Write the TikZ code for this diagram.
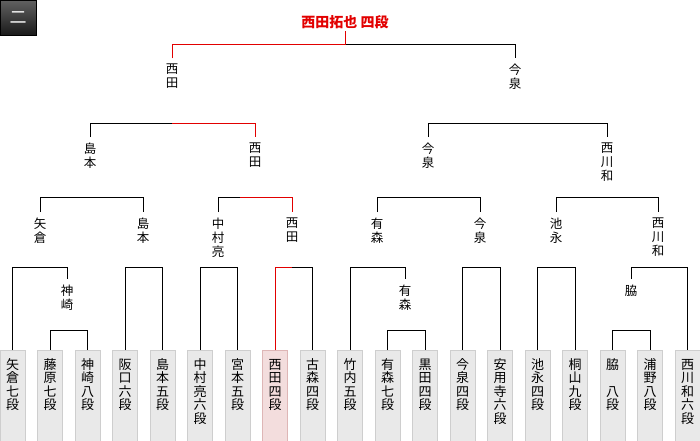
\documentclass[tikz,border=0pt]{standalone}
\usepackage{fontspec}
\setmainfont{Noto Sans CJK JP}
\usepackage{tikz}
\usetikzlibrary{positioning,calc}
\definecolor{winred}{RGB}{226,0,0}
\definecolor{boxgray}{RGB}{233,233,233}
\definecolor{boxline}{RGB}{206,206,206}
\definecolor{winfill}{RGB}{243,221,221}
\definecolor{winline}{RGB}{222,182,182}
\newcommand{\tate}[1]{\parbox[t]{25pt}{\centering #1}}
\tikzset{
  player/.style={rectangle, draw=boxline, fill=#1, anchor=north, minimum width=25pt,
                 inner xsep=0pt, inner ysep=0pt, text height=19pt, text depth=75pt,
                 font=\fontsize{13}{13.5}\selectfont},
  player/.default={boxgray},
  pwin/.style={player=winfill, draw=winline},
  winner/.style={anchor=north, inner xsep=0pt, inner ysep=6pt, align=center,
                 font=\fontsize{12.5}{14}\selectfont},
  bline/.style={draw=black, line width=1pt},
  win/.style={draw=winred, line width=1pt},
}

\begin{document}
\begin{tikzpicture}[x=1pt, y=-1pt]
\useasboundingbox (0,0) rectangle (700,440);
% round tab and champion
\node[draw=black, top color=black!62, bottom color=black!90, minimum width=36pt, minimum height=35pt,
      anchor=north west, inner sep=0pt, text=white, font=\fontsize{17}{17}\selectfont] (tab) at (0,0) {二};
\node[text=winred, font=\fontsize{14}{14}\selectfont\bfseries, inner sep=2pt] (t) at (345,22) {西田拓也 四段};
% bracket levels
\coordinate (r1) at (0,330);
\coordinate (r2) at (0,267);
\coordinate (r3) at (0,197);
\coordinate (r4) at (0,123);
\coordinate (r5) at (0,44);
\coordinate (redstart) at (240,197);
% players
\node[player] (p1) at (12.5,350) {\tate{矢\\倉\\七\\段}};
\node[player] (p2) at (50,350) {\tate{藤\\原\\七\\段}};
\node[player] (p3) at (87.5,350) {\tate{神\\崎\\八\\段}};
\node[player] (p4) at (125,350) {\tate{阪\\口\\六\\段}};
\node[player] (p5) at (162.5,350) {\tate{島\\本\\五\\段}};
\node[player] (p6) at (200,350) {\tate{中\\村\\亮\\六\\段}};
\node[player] (p7) at (237.5,350) {\tate{宮\\本\\五\\段}};
\node[pwin] (p8) at (275,350) {\tate{西\\田\\四\\段}};
\node[player] (p9) at (312.5,350) {\tate{古\\森\\四\\段}};
\node[player] (p10) at (350,350) {\tate{竹\\内\\五\\段}};
\node[player] (p11) at (387.5,350) {\tate{有\\森\\七\\段}};
\node[player] (p12) at (425,350) {\tate{黒\\田\\四\\段}};
\node[player] (p13) at (462.5,350) {\tate{今\\泉\\四\\段}};
\node[player] (p14) at (500,350) {\tate{安\\用\\寺\\六\\段}};
\node[player] (p15) at (537.5,350) {\tate{池\\永\\四\\段}};
\node[player] (p16) at (575,350) {\tate{桐\\山\\九\\段}};
\node[player] (p17) at (612.5,350) {\tate{脇\\　\\八\\段}};
\node[player] (p18) at (650,350) {\tate{浦\\野\\八\\段}};
\node[player] (p19) at (687.5,350) {\tate{西\\川\\和\\六\\段}};
% winners
\node[winner] (a1) at (67,279) {神\\崎};
\node[winner] (a2) at (405,279) {有\\森};
\node[winner] (a3) at (631,279) {脇};
\node[winner] (b1) at (40,212) {矢\\倉};
\node[winner] (b2) at (143,212) {島\\本};
\node[winner] (b3) at (218,212) {中\\村\\亮};
\node[winner] (b4) at (292,212) {西\\田};
\node[winner] (b5) at (377,212) {有\\森};
\node[winner] (b6) at (480,212) {今\\泉};
\node[winner] (b7) at (556,212) {池\\永};
\node[winner] (b8) at (658,212) {西\\川\\和};
\node[winner] (c1) at (90,137) {島\\本};
\node[winner] (c2) at (255,137) {西\\田};
\node[winner] (c3) at (428,137) {今\\泉};
\node[winner] (c4) at (607,137) {西\\川\\和};
\node[winner] (d1) at (172,58) {西\\田};
\node[winner] (d2) at (515,58) {今\\泉};
% matches
\draw[bline] (p2.north) -- (p2.north |- r1) -| (p3.north);
\draw[bline] (p11.north) -- (p11.north |- r1) -| (p12.north);
\draw[bline] (p17.north) -- (p17.north |- r1) -| (p18.north);
\draw[bline] (p1.north) -- (p1.north |- r2) -| (a1.north);
\draw[bline] (p4.north) -- (p4.north |- r2) -| (p5.north);
\draw[bline] (p6.north) -- (p6.north |- r2) -| (p7.north);
\draw[bline] (p8.north) -- (p8.north |- r2) -| (p9.north);
\draw[bline] (p10.north) -- (p10.north |- r2) -| (a2.north);
\draw[bline] (p13.north) -- (p13.north |- r2) -| (p14.north);
\draw[bline] (p15.north) -- (p15.north |- r2) -| (p16.north);
\draw[bline] (a3.north) -- (a3.north |- r2) -| (p19.north);
\draw[bline] (b1.north) -- (b1.north |- r3) -| (b2.north);
\draw[bline] (b3.north) -- (b3.north |- r3) -| (b4.north);
\draw[bline] (b5.north) -- (b5.north |- r3) -| (b6.north);
\draw[bline] (b7.north) -- (b7.north |- r3) -| (b8.north);
\draw[bline] (c1.north) -- (c1.north |- r4) -| (c2.north);
\draw[bline] (c3.north) -- (c3.north |- r4) -| (c4.north);
\draw[bline] (d1.north) -- (d1.north |- r5) -| (d2.north);
% path of the winner
\draw[win] (p8.north) |- (b4.north |- r2);
\draw[win] (redstart) -| (b4.north);
\draw[win] (d1.north |- r4) -| (c2.north);
\draw[win] (d1.north) |- (t.south |- r5) -- (t.south);
\end{tikzpicture}
\end{document}
